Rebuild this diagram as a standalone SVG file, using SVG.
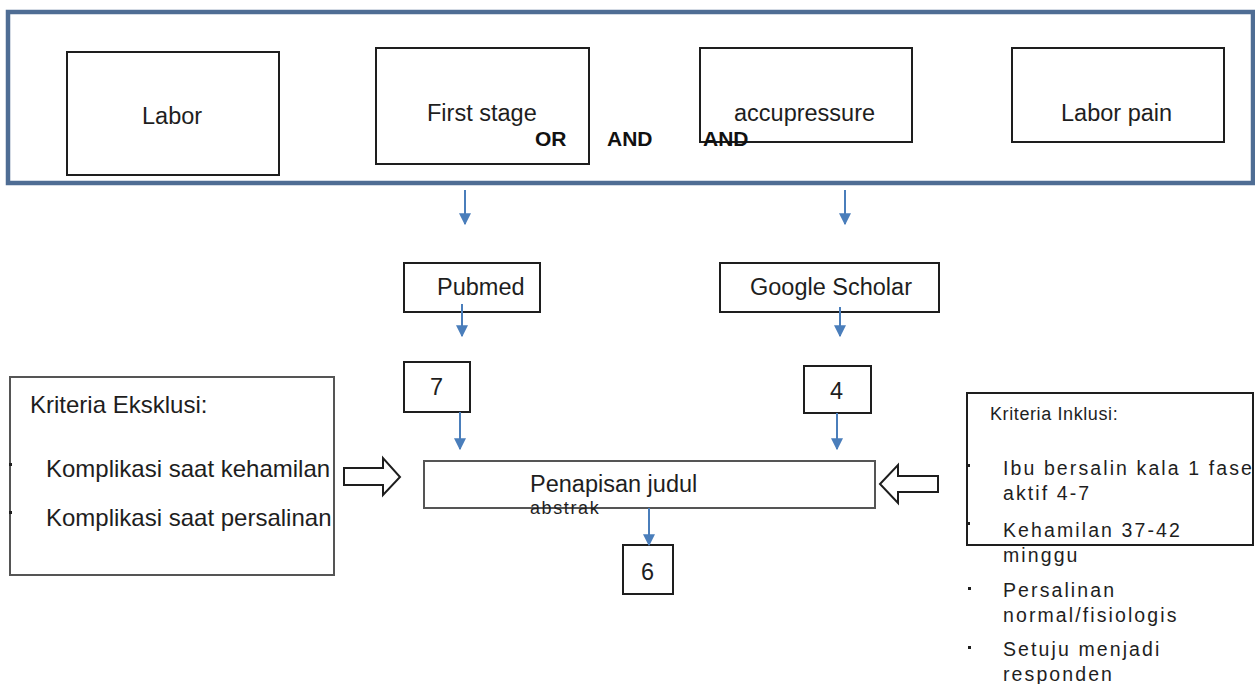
<svg xmlns="http://www.w3.org/2000/svg" width="1255" height="684" viewBox="0 0 1255 684">
<style>
text{font-family:"Liberation Sans",Arial,sans-serif;fill:#1e1e1e;font-size:23.5px}
.b{font-weight:bold;font-size:21px;fill:#111}
.box{fill:#fff;stroke:#1e1e1e;stroke-width:2}
.gbox{fill:#fff;stroke:#555;stroke-width:2}
.con{stroke:#4a7ebb;stroke-width:2;fill:none}
.hol{fill:#fff;stroke:#1e1e1e;stroke-width:2;stroke-linejoin:miter}
.sm{font-size:19.5px;letter-spacing:2.1px}
.lg{font-size:24px}
</style>
<defs>
<marker id="a2" viewBox="0 0 10 10" refX="9" refY="5" markerWidth="12" markerHeight="12" orient="auto" markerUnits="userSpaceOnUse">
<path d="M0,0 L10,5 L0,10 z" fill="#4a7ebb"/>
</marker>
</defs>
<rect id="frame" x="8" y="12" width="1245" height="171" fill="#fff" stroke="#4f6d94" stroke-width="4.5"/>
<g id="labor"><rect class="box" x="67" y="52" width="212" height="123"/><text x="142" y="124">Labor</text></g>
<g id="firststage"><rect class="box" x="376" y="48" width="213" height="116"/><text x="427" y="121">First stage</text></g>
<g id="accupressure"><rect class="box" x="700" y="48" width="212" height="94"/><text x="734" y="121">accupressure</text></g>
<g id="laborpain"><rect class="box" x="1012" y="48" width="212" height="94"/><text x="1061" y="121">Labor pain</text></g>
<g id="ops"><text class="b" x="535" y="146">OR</text><text class="b" x="607" y="146">AND</text><text class="b" x="703" y="146">AND</text></g>
<g id="pubmed"><rect class="box" x="404" y="263" width="136" height="49"/><text x="437" y="295">Pubmed</text></g>
<g id="scholar"><rect class="box" x="720" y="263" width="219" height="49"/><text x="750" y="295">Google Scholar</text></g>
<g id="n7"><rect class="box" x="404" y="362" width="66" height="50"/><text x="430" y="395">7</text></g>
<g id="n4"><rect class="box" x="804" y="366" width="67" height="47"/><text x="830" y="399">4</text></g>
<g id="screen"><rect class="gbox" x="424" y="461" width="451" height="47"/><text x="530" y="492">Penapisan judul</text><text x="530" y="514" style="font-size:18px;letter-spacing:1.6px">abstrak</text></g>
<g id="n6"><rect class="box" x="623" y="545" width="50" height="49"/><text x="641" y="580">6</text></g>
<g id="exclusion"><rect class="gbox" x="10" y="377" width="324" height="198"/>
<text class="lg" x="30" y="413">Kriteria Eksklusi:</text>
<text class="lg" x="46" y="477">Komplikasi saat kehamilan</text>
<text class="lg" x="46" y="526">Komplikasi saat persalinan</text>
<rect x="9" y="463" width="3" height="3" fill="#1e1e1e"/><rect x="9" y="511" width="3" height="3" fill="#1e1e1e"/></g>
<g id="inclusion"><rect class="box" x="967" y="393" width="286" height="152"/>
<text x="990" y="420" style="font-size:18px;letter-spacing:0.6px">Kriteria Inklusi:</text>
<text class="sm" x="1003" y="475">Ibu bersalin kala 1 fase</text>
<text class="sm" x="1003" y="500">aktif 4-7</text>
<text class="sm" x="1003" y="537">Kehamilan 37-42</text>
<text class="sm" x="1003" y="562">minggu</text>
<text class="sm" x="1003" y="597">Persalinan</text>
<text class="sm" x="1003" y="622">normal/fisiologis</text>
<text class="sm" x="1003" y="656">Setuju menjadi</text>
<text class="sm" x="1003" y="681">responden</text>
<rect x="968" y="464" width="2" height="3" fill="#1e1e1e"/><rect x="968" y="522" width="2" height="3" fill="#1e1e1e"/>
<rect x="968" y="587" width="3" height="3" fill="#1e1e1e"/><rect x="968" y="646" width="3" height="3" fill="#1e1e1e"/></g>
<g id="connectors">
<line class="con" x1="465" y1="190" x2="465" y2="224" marker-end="url(#a2)"/>
<line class="con" x1="845" y1="190" x2="845" y2="224" marker-end="url(#a2)"/>
<line class="con" x1="462" y1="304" x2="462" y2="336" marker-end="url(#a2)"/>
<line class="con" x1="840" y1="307" x2="840" y2="336" marker-end="url(#a2)"/>
<line class="con" x1="460" y1="412" x2="460" y2="449" marker-end="url(#a2)"/>
<line class="con" x1="837" y1="413" x2="837" y2="449" marker-end="url(#a2)"/>
<line class="con" x1="649" y1="508" x2="649" y2="545" marker-end="url(#a2)"/>
<polygon class="hol" points="344,468 383,468 383,458 400,477 383,495 383,485 344,485"/>
<polygon class="hol" points="938,476 898,476 898,465 880,484 898,503 898,492 938,492"/>
</g>
</svg>
